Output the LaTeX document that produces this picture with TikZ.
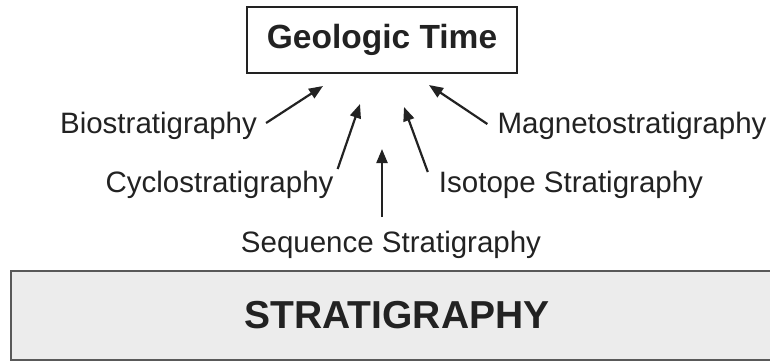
\documentclass[tikz,border=0pt]{standalone}
\usepackage{fontspec}
\setmainfont{Liberation Sans}
\usetikzlibrary{arrows.meta}
\definecolor{ink}{HTML}{222222}
\definecolor{panel}{HTML}{ECECEC}
\begin{document}
\begin{tikzpicture}[x=1pt, y=-1pt, every node/.style={text=ink,inner sep=0pt},
  lbl/.style={font=\fontsize{29.5}{32}\selectfont, anchor=base},
  arr/.style={-{Triangle[length=14pt,width=11pt]}, line width=2.2pt, ink}]
\useasboundingbox (0,0) rectangle (770,362);
\clip (0,0) rectangle (770,362);
\node[draw=ink,line width=1.8pt,minimum width=270pt,minimum height=65.5pt,
  font=\fontsize{33.5}{36}\selectfont\bfseries] (gt) at (382,40) {Geologic Time};
\node[draw=black!65,line width=2pt,fill=panel,minimum width=772pt,minimum height=89pt,
  font=\fontsize{39}{42}\selectfont\bfseries] (strat) at (397,315.5) {STRATIGRAPHY};
\node[lbl] (bio) at (158.5,133) {Biostratigraphy};
\node[lbl] (mag) at (632,133) {Magnetostratigraphy};
\node[lbl] (cyc) at (219.5,192) {Cyclostratigraphy};
\node[lbl] (iso) at (571,192) {Isotope Stratigraphy};
\node[lbl] (seq) at (391,252) {Sequence Stratigraphy};
% arrow tips below the time box
\coordinate (tbio) at (323,86);
\coordinate (tcyc) at (360,104);
\coordinate (tseq) at (382,149);
\coordinate (tiso) at (404,107);
\coordinate (tmag) at (429,85);
\draw[arr] ([shift={(9,-10)}]bio.base east) -- (tbio);
\draw[arr] ([shift={(4,-23)}]cyc.base east) -- (tcyc);
\draw[arr] ([shift={(-9,-35)}]seq.base) -- (tseq);
\draw[arr] ([shift={(-11,-20)}]iso.base west) -- (tiso);
\draw[arr] ([shift={(-10,-9)}]mag.base west) -- (tmag);
\end{tikzpicture}
\end{document}
